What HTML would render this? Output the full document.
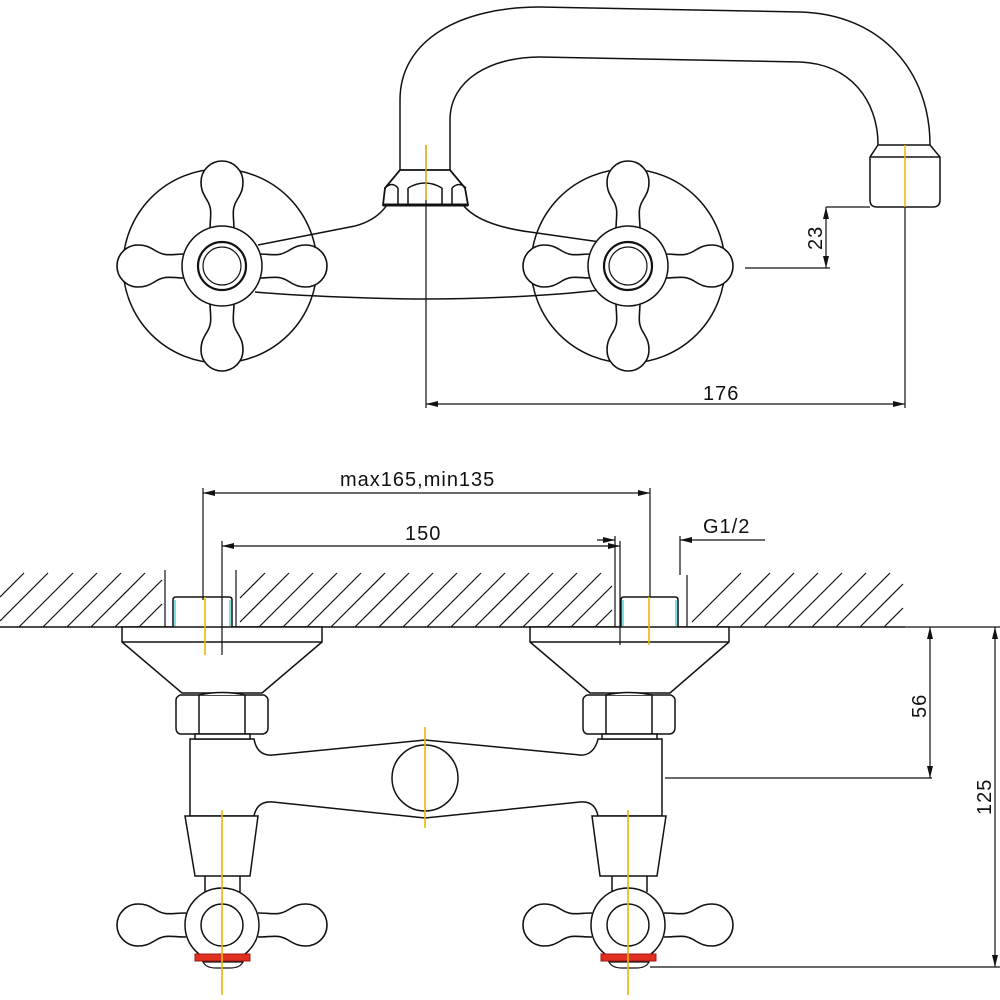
<!DOCTYPE html>
<html><head><meta charset="utf-8"><style>
html,body{margin:0;padding:0;background:#fff}
svg{display:block}
text{font-family:"Liberation Sans",sans-serif;font-size:20px;fill:#111;letter-spacing:1px}
</style></head><body>
<svg width="1000" height="1000" viewBox="0 0 1000 1000" xmlns="http://www.w3.org/2000/svg">
<defs>
<marker id="a" markerWidth="12" markerHeight="6" refX="12" refY="3" orient="auto-start-reverse" markerUnits="userSpaceOnUse"><path d="M0,0 L12,3 L0,6 z" fill="#111"/></marker>
<path id="lobe" d="M-12,-36 C-12,-50 -9,-56 -15,-66 C-20,-74 -21,-78 -21,-84 A21,21 0 0 1 21,-84 C21,-78 20,-74 15,-66 C9,-56 12,-50 12,-36" fill="#fff" stroke="#111" stroke-width="1.6"/>
<g id="cross">
<use href="#lobe"/><use href="#lobe" transform="rotate(90)"/><use href="#lobe" transform="rotate(180)"/><use href="#lobe" transform="rotate(270)"/>
<circle r="40" fill="#fff" stroke="#111" stroke-width="1.5"/>
<circle r="24" fill="none" stroke="#111" stroke-width="2.2"/>
<circle r="19" fill="none" stroke="#111" stroke-width="1.2"/>
</g>
<g id="thandle">
<use href="#lobe" transform="rotate(-90)"/><use href="#lobe" transform="rotate(90)"/>
<circle r="37" fill="#fff" stroke="#111" stroke-width="1.5"/>
<circle r="21" fill="none" stroke="#111" stroke-width="1.5"/>
</g>
</defs>
<g fill="none" stroke="#111" stroke-width="1.5">
<path d="M400,170 L400,100 C400,40 460,7 540,7 L800,12 C880,14 930,70 930,145"/>
<path d="M450,170 L450,120 C450,80 490,57 540,57 L800,62 C850,64 878,100 878,145"/>
<path d="M878,145 L930,145 L940,157 L940,200 Q940,207 933,207 L877,207 Q870,207 870,200 L870,157 Z"/>
<line x1="870" y1="157" x2="940" y2="157"/>
<path d="M258,245 L355,226 C370,222 380,215 387,205"/>
<path d="M463,205 C475,220 500,228 530,232 L600,242"/>
<path d="M255,292 C300,296 380,299 425,299 C480,299 550,296 600,290"/>
<path d="M400,170 L450,170 L465,188 L468,205 L383,205 L385,188 Z" fill="#fff" stroke-width="1.8"/>
<path d="M385,188 Q392,181 398,188 M398,188 L398,205 M408,188 L408,205 M408,188 Q425,178 442,188 M442,188 L442,205 M452,188 L452,205 M452,188 Q459,181 466,188"/>
<line x1="383" y1="205" x2="468" y2="205" stroke-width="3"/>
<circle cx="220" cy="266" r="97"/>
<circle cx="628" cy="266" r="97"/>
</g>
<use href="#cross" x="222" y="266"/>
<use href="#cross" x="628" y="266"/>
<line x1="426" y1="145" x2="426" y2="200" stroke="#d9a400" stroke-width="1.5"/>
<line x1="426" y1="200" x2="426" y2="408" stroke="#111" stroke-width="1.2"/>
<line x1="905" y1="145" x2="905" y2="207" stroke="#e8b800" stroke-width="1.5"/>
<g stroke="#111" stroke-width="1.2" fill="none">
<line x1="905" y1="207" x2="905" y2="408"/>
<line x1="426" y1="404" x2="905" y2="404" marker-start="url(#a)" marker-end="url(#a)"/>
<line x1="826" y1="207" x2="870" y2="207"/>
<line x1="745" y1="268" x2="830" y2="268"/>
<line x1="826" y1="207" x2="826" y2="268" marker-start="url(#a)" marker-end="url(#a)"/>
</g>
<text x="703" y="400">176</text>
<text transform="translate(822,250) rotate(-90)">23</text>

<g stroke="#111" stroke-width="1.2" fill="none">
<path d="M0,597 L24,573 M0,621 L48,573 M19,627 L73,573 M43,627 L97,573 M67,627 L121,573 M91,627 L145,573 M115,627 L162,580 M139,627 L162,604 M240,622 L289,573 M259,627 L313,573 M283,627 L337,573 M307,627 L361,573 M331,627 L385,573 M355,627 L409,573 M379,627 L433,573 M403,627 L457,573 M427,627 L481,573 M451,627 L505,573 M475,627 L529,573 M499,627 L553,573 M523,627 L577,573 M547,627 L601,573 M571,627 L612,586 M595,627 L612,610 M240,598 L265,573 M692,622 L741,573 M716,627 L770,573 M740,627 L794,573 M764,627 L818,573 M788,627 L842,573 M812,627 L866,573 M836,627 L890,573 M860,627 L903,584 M884,627 L903,608"/>
<line x1="0" y1="627" x2="905" y2="627" stroke-width="1.6"/>
<line x1="165" y1="570" x2="165" y2="627"/><line x1="236" y1="570" x2="236" y2="627"/>
<line x1="615" y1="575" x2="615" y2="627"/><line x1="687" y1="575" x2="687" y2="627"/>
</g>
<g stroke="#111" stroke-width="1.5" fill="#fff">
<path d="M173,627 L173,600 Q173,597 176,597 L229,597 Q232,597 232,600 L232,627"/>
<path d="M621,627 L621,600 Q621,597 624,597 L675,597 Q678,597 678,600 L678,627"/>
<path d="M122,627 L322,627 L322,642 L262,693 L182,693 L122,642 Z"/>
<line x1="122" y1="642" x2="322" y2="642"/>
<path d="M530,627 L729,627 L729,642 L670,693 L590,693 L530,642 Z"/>
<line x1="530" y1="642" x2="729" y2="642"/>
<path d="M180,695 L264,695 Q268,697 268,700 L268,728 Q268,733 263,734 L180,734 Q176,733 176,728 L176,700 Q176,697 180,695 Z"/>
<path d="M199,695 L199,734 M245,695 L245,734 M199,695 Q222,690 245,695 M199,734 Q222,739 245,734"/>
<path d="M587,695 L671,695 Q675,697 675,700 L675,728 Q675,733 670,734 L587,734 Q583,733 583,728 L583,700 Q583,697 587,695 Z"/>
<path d="M606,695 L606,734 M652,695 L652,734 M606,695 Q629,690 652,695 M606,734 Q629,739 652,734"/>
<path d="M190,739 L254,739 C256,750 262,756 273,755 L425,740 L580,755 C590,756 596,748 598,739 L662,739 L662,816 L598,816 C596,806 590,801 580,802 L425,818 L273,802 C262,801 256,806 254,816 L190,816 Z"/>
<rect x="195" y="734" width="55" height="5"/>
<rect x="602" y="734" width="55" height="5"/>
<circle cx="425" cy="778" r="33"/>
<path d="M185,816 L258,816 L250,876 L195,876 Z"/>
<path d="M592,816 L666,816 L657,876 L600,876 Z"/>
<path d="M205,876 L205,892 M240,876 L240,892 M612,876 L612,892 M647,876 L647,892"/>
</g>
<use href="#thandle" x="222" y="925"/>
<use href="#thandle" x="628" y="925"/>
<g stroke="#111" stroke-width="1.2" fill="#fff">
<path d="M203,962 L243,962 Q240,968 230,968 L216,968 Q206,968 203,962 Z"/>
<path d="M609,962 L649,962 Q646,968 636,968 L622,968 Q612,968 609,962 Z"/>
</g>
<rect x="195" y="954" width="55" height="7" fill="#e03020" stroke="#a01810" stroke-width="1"/>
<rect x="601" y="954" width="55" height="7" fill="#e03020" stroke="#a01810" stroke-width="1"/>
<g stroke="#30c8d0" stroke-width="1.2"><line x1="175" y1="600" x2="175" y2="626"/><line x1="230" y1="600" x2="230" y2="626"/><line x1="623" y1="600" x2="623" y2="626"/><line x1="676" y1="600" x2="676" y2="626"/></g>
<g stroke="#111" stroke-width="1.2" fill="none">
<line x1="203" y1="488" x2="203" y2="600"/>
<line x1="650" y1="488" x2="650" y2="597"/>
<line x1="222" y1="541" x2="222" y2="655"/>
<line x1="620" y1="541" x2="620" y2="645"/>
<line x1="615" y1="536" x2="615" y2="575"/>
<line x1="680" y1="536" x2="680" y2="575"/>
<line x1="203" y1="493" x2="650" y2="493" marker-start="url(#a)" marker-end="url(#a)"/>
<line x1="222" y1="546" x2="620" y2="546" marker-start="url(#a)" marker-end="url(#a)"/>
<line x1="597" y1="540" x2="615" y2="540" marker-end="url(#a)"/>
<line x1="765" y1="540" x2="680" y2="540" marker-end="url(#a)"/>
<line x1="665" y1="778" x2="932" y2="778"/>
<line x1="930" y1="627" x2="930" y2="778" marker-start="url(#a)" marker-end="url(#a)"/>
<line x1="905" y1="627" x2="1000" y2="627"/>
<line x1="650" y1="967" x2="1000" y2="967"/>
<line x1="995" y1="627" x2="995" y2="967" marker-start="url(#a)" marker-end="url(#a)"/>
</g>
<g stroke="#e8b800" stroke-width="1.6">
<line x1="205" y1="597" x2="205" y2="655"/>
<line x1="649" y1="597" x2="649" y2="645"/>
<line x1="425" y1="727" x2="425" y2="828"/>
<line x1="222" y1="810" x2="222" y2="995"/>
<line x1="628" y1="810" x2="628" y2="995"/>
</g>
<text x="340" y="486">max165,min135</text>
<text x="405" y="540">150</text>
<text x="703" y="533">G1/2</text>
<text transform="translate(926,718) rotate(-90)">56</text>
<text transform="translate(991,815) rotate(-90)">125</text>
</svg>
</body></html>
